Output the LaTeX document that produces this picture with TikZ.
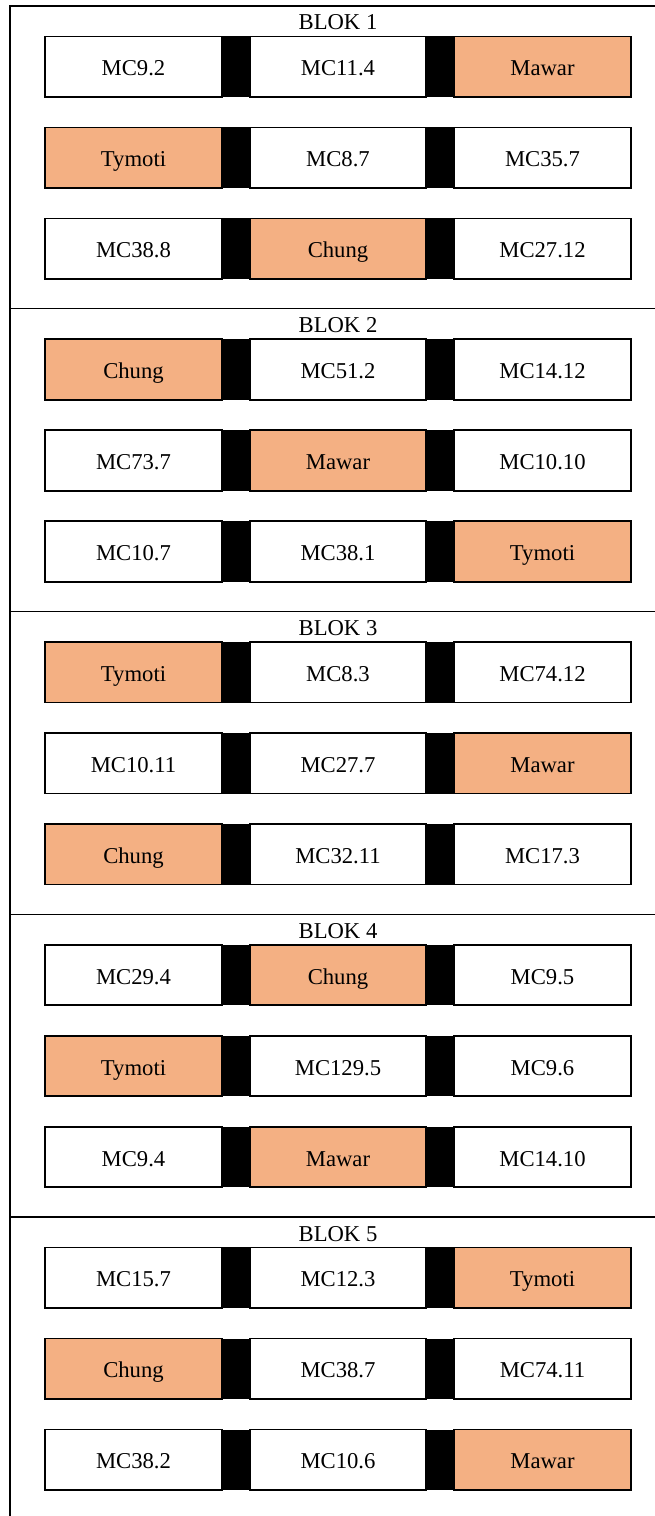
\documentclass[tikz,border=0pt]{standalone}
\usepackage{fontspec}
\setmainfont{Liberation Serif}
\newfontfamily\tnr{Liberation Serif}
\definecolor{salm}{HTML}{F4B083}
\begin{document}
\begin{tikzpicture}[x=0.75pt,y=-0.75pt,
  every node/.style={font=\tnr\fontsize{17}{20}\selectfont},
  cell/.style={draw=black,line width=1.25pt,minimum width=132.5pt,minimum height=45.4pt,inner sep=0pt,outer sep=0pt,text height=13.5pt,text depth=0pt},
  gap/.style={fill=black,draw=none,minimum width=21pt,minimum height=45.4pt,inner sep=0pt,outer sep=0pt},
  rule/.style={line width=1pt,draw=black}]
\useasboundingbox (0,0) rectangle (655,1516);
\coordinate (bl) at (10,1516);
\coordinate (tl) at (10,6);
\coordinate (tr) at (655,6);
\draw[rule] (bl) -- (tl) -- (tr);
\foreach \b in {2,...,5}{
  \pgfmathsetmacro{\tb}{6+302.75*(\b-1)}
  \coordinate (sl\b) at (10,\tb);
  \coordinate (sr\b) at (655,\tb);
  \draw[rule] (sl\b) -- (sr\b);
}
\foreach \b in {1,...,5}{
  \pgfmathsetmacro{\tb}{6+302.75*(\b-1)}
  \node[anchor=base,inner sep=0pt] (lab\b) at (338,\tb+24) {BLOK \b};
}
\foreach \b/\r/\fa/\ta/\fb/\tb/\fc/\tc in {
 1/1/white/MC9.2/white/MC11.4/salm/Mawar,
 1/2/salm/Tymoti/white/MC8.7/white/MC35.7,
 1/3/white/MC38.8/salm/Chung/white/MC27.12,
 2/1/salm/Chung/white/MC51.2/white/MC14.12,
 2/2/white/MC73.7/salm/Mawar/white/MC10.10,
 2/3/white/MC10.7/white/MC38.1/salm/Tymoti,
 3/1/salm/Tymoti/white/MC8.3/white/MC74.12,
 3/2/white/MC10.11/white/MC27.7/salm/Mawar,
 3/3/salm/Chung/white/MC32.11/white/MC17.3,
 4/1/white/MC29.4/salm/Chung/white/MC9.5,
 4/2/salm/Tymoti/white/MC129.5/white/MC9.6,
 4/3/white/MC9.4/salm/Mawar/white/MC14.10,
 5/1/white/MC15.7/white/MC12.3/salm/Tymoti,
 5/2/salm/Chung/white/MC38.7/white/MC74.11,
 5/3/white/MC38.2/white/MC10.6/salm/Mawar}{
  \pgfmathsetmacro{\yc}{6+302.75*(\b-1)+30.5+91*(\r-1)+30.25}
  \node[gap] (g\b\r a) at (236,\yc) {};
  \node[gap] (g\b\r b) at (440,\yc) {};
  \node[cell,fill=\fa] (c\b\r a) at (133.5,\yc) {\ta};
  \node[cell,fill=\fb,minimum width=132pt] (c\b\r b) at (338,\yc) {\tb};
  \node[cell,fill=\fc] (c\b\r c) at (542.5,\yc) {\tc};
}
\end{tikzpicture}
\end{document}
